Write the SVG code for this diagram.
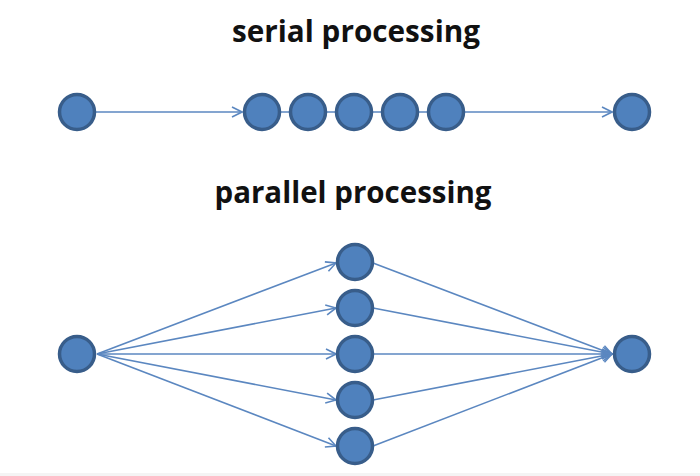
<svg xmlns="http://www.w3.org/2000/svg" width="700" height="476" viewBox="0 0 700 476">
<style>
.node{fill:#4F81BD;stroke:#385D8A;stroke-width:3.5}
.edge{stroke:#5B87C0;stroke-width:1.6;fill:none}
.arr{marker-end:url(#ah)}
.title{font-family:"Open Sans","Liberation Sans",sans-serif;font-weight:bold;font-size:31px;fill:#111}
</style>
<defs>
<marker id="ah" viewBox="0 0 12 12" refX="11" refY="6" markerWidth="12" markerHeight="12" markerUnits="userSpaceOnUse" orient="auto">
<path d="M1,1 L11,6 L1,11" fill="none" stroke="#5B87C0" stroke-width="1.6"/>
</marker>
</defs>
<rect width="700" height="476" fill="#fff"/>
<rect y="473" width="700" height="3" fill="#f4f4f4"/>
<text class="title" x="356" y="42" text-anchor="middle" textLength="248" lengthAdjust="spacingAndGlyphs">serial processing</text>
<text class="title" x="353" y="203" text-anchor="middle" textLength="277" lengthAdjust="spacingAndGlyphs">parallel processing</text>
<g id="connectors">
<line class="edge arr" x1="96" y1="112" x2="242" y2="112"/>
<line class="edge" x1="262" y1="112" x2="446" y2="112"/>
<line class="edge arr" x1="465" y1="112" x2="612" y2="112"/>
<line class="edge arr" x1="97" y1="354" x2="336" y2="263"/>
<line class="edge arr" x1="97" y1="354" x2="336" y2="308"/>
<line class="edge arr" x1="97" y1="354" x2="336" y2="354"/>
<line class="edge arr" x1="97" y1="354" x2="336" y2="400"/>
<line class="edge arr" x1="97" y1="354" x2="336" y2="446"/>
<line class="edge arr" x1="373" y1="263" x2="612" y2="354"/>
<line class="edge arr" x1="373" y1="308" x2="612" y2="354"/>
<line class="edge arr" x1="373" y1="354" x2="612" y2="354"/>
<line class="edge arr" x1="373" y1="400" x2="612" y2="354"/>
<line class="edge arr" x1="373" y1="446" x2="612" y2="354"/>
</g>
<g id="s1"><circle class="node" cx="77" cy="112" r="17.5"/></g>
<g id="s2"><circle class="node" cx="262" cy="112" r="17.5"/></g>
<g id="s3"><circle class="node" cx="308" cy="112" r="17.5"/></g>
<g id="s4"><circle class="node" cx="354" cy="112" r="17.5"/></g>
<g id="s5"><circle class="node" cx="400" cy="112" r="17.5"/></g>
<g id="s6"><circle class="node" cx="446" cy="112" r="17.5"/></g>
<g id="s7"><circle class="node" cx="632" cy="112" r="17.5"/></g>
<g id="p1"><circle class="node" cx="77" cy="354" r="17.5"/></g>
<g id="p2"><circle class="node" cx="355" cy="262" r="17.5"/></g>
<g id="p3"><circle class="node" cx="355" cy="308" r="17.5"/></g>
<g id="p4"><circle class="node" cx="355" cy="354" r="17.5"/></g>
<g id="p5"><circle class="node" cx="355" cy="400" r="17.5"/></g>
<g id="p6"><circle class="node" cx="355" cy="446" r="17.5"/></g>
<g id="p7"><circle class="node" cx="632" cy="354" r="17.5"/></g>
</svg>
